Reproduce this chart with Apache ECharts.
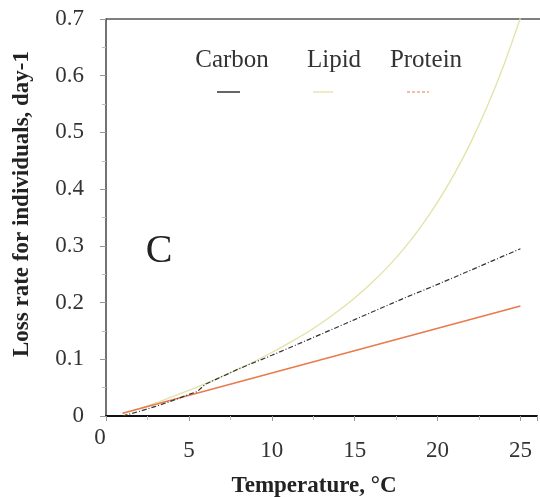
<!DOCTYPE html>
<html>
<head>
<meta charset="utf-8">
<script src="https://cdn.jsdelivr.net/npm/echarts@6/dist/echarts.min.js"></script>
<style>html,body{margin:0;padding:0;background:#fff}#c{width:540px;height:497px}</style>
</head>
<body>
<div id="c"></div>
<script>
const seriesNames = ['Carbon', 'Lipid', 'Protein'];
const carbonT = [1, 2, 3, 4, 5, 5.5, 6, 8, 10, 12, 15, 18, 20, 22, 25];
const carbonV = [0.0, 0.008, 0.017, 0.027, 0.038, 0.043, 0.056, 0.083, 0.107, 0.132, 0.17, 0.208, 0.232, 0.257, 0.295];
const lipidT = [1, 2, 3, 4, 5, 6, 7, 8, 9, 10, 11, 12, 13, 14, 15, 16, 17, 18, 19, 20, 21, 22, 23, 24, 25];
const lipidV = [0.004, 0.013, 0.023, 0.034, 0.045, 0.057, 0.070, 0.083, 0.097, 0.112, 0.128, 0.145, 0.164, 0.185, 0.208, 0.234, 0.263, 0.296, 0.334, 0.377, 0.426, 0.482, 0.546, 0.619, 0.702];
const proteinT = [1, 25];
const proteinV = [0.005, 0.194];
const xTicks = [0, 5, 10, 15, 20, 25];
const yTicks = [0, 0.1, 0.2, 0.3, 0.4, 0.5, 0.6, 0.7];
const xTitle = 'Temperature, °C';
const yTitle = 'Loss rate for individuals, day-1';
const panelLabel = 'C';

const pairs = (xs, ys) => xs.map((x, i) => [x, ys[i]]);
const serif = '"Liberation Serif", "DejaVu Serif", serif';
const chart = echarts.init(document.getElementById('c'));
const colors = ['#333333', '#e3e2a6', '#ea7a4c'];

chart.setOption({
  animation: false,
  backgroundColor: '#ffffff',
  grid: { left: 106, top: 19, width: 436, height: 397 },
  xAxis: {
    type: 'value', min: 0, max: 26, interval: 5,
    axisLine: { show: true, onZero: false, lineStyle: { color: '#111', width: 2 } },
    axisTick: { show: true, length: 5, lineStyle: { color: '#999' } },
    minorTick: { show: true, splitNumber: 2, length: 4, lineStyle: { color: '#bbb' } },
    splitLine: { show: false },
    axisLabel: {
      margin: 23, fontFamily: serif, fontSize: 23, color: '#333',
      formatter: v => (xTicks.indexOf(v) > 0 ? String(v) : '')
    }
  },
  yAxis: {
    type: 'value', min: 0, max: 0.7, interval: 0.1,
    axisLine: { show: true, lineStyle: { color: '#444', width: 1.5 } },
    axisTick: { show: true, length: 6, lineStyle: { color: '#999' } },
    minorTick: { show: true, splitNumber: 2, length: 4, lineStyle: { color: '#bbb' } },
    splitLine: { show: false },
    axisLabel: {
      margin: 22, fontFamily: serif, fontSize: 23, color: '#333',
      formatter: v => { const t = yTicks.find(y => Math.abs(y - v) < 1e-9); return t === undefined ? '' : String(t); }
    }
  },
  series: [
    { name: seriesNames[0], type: 'line', data: pairs(carbonT, carbonV), showSymbol: false, clip: true,
      lineStyle: { color: colors[0], width: 1.2, type: [5, 2, 1, 2] }, z: 3 },
    { name: seriesNames[1], type: 'line', data: pairs(lipidT, lipidV), showSymbol: false, smooth: 0.4, clip: true,
      lineStyle: { color: colors[1], width: 1.3 }, z: 2 },
    { name: seriesNames[2], type: 'line', data: pairs(proteinT, proteinV), showSymbol: false, clip: true,
      lineStyle: { color: colors[2], width: 1.6 }, z: 2 }
  ],
  graphic: [
    { type: 'line', shape: { x1: 106, y1: 19, x2: 540, y2: 19 }, style: { stroke: '#555', lineWidth: 1.5 } },
    { type: 'text', x: 100, y: 438, style: { text: '0', font: '23px ' + serif, fill: '#333', textAlign: 'center', textVerticalAlign: 'middle' } },
    { type: 'text', x: 159, y: 251, style: { text: panelLabel, font: '40px ' + serif, fill: '#222', textAlign: 'center', textVerticalAlign: 'middle' } },
    { type: 'text', x: 232, y: 60, style: { text: seriesNames[0], font: '25px ' + serif, fill: '#333', textAlign: 'center', textVerticalAlign: 'middle' } },
    { type: 'text', x: 334, y: 60, style: { text: seriesNames[1], font: '25px ' + serif, fill: '#333', textAlign: 'center', textVerticalAlign: 'middle' } },
    { type: 'text', x: 426, y: 60, style: { text: seriesNames[2], font: '25px ' + serif, fill: '#333', textAlign: 'center', textVerticalAlign: 'middle' } },
    { type: 'line', shape: { x1: 217, y1: 92, x2: 240, y2: 92 }, style: { stroke: colors[0], lineWidth: 1.5 } },
    { type: 'line', shape: { x1: 313, y1: 92, x2: 333, y2: 92 }, style: { stroke: colors[1], lineWidth: 1.3 } },
    { type: 'line', shape: { x1: 407, y1: 92, x2: 429, y2: 92 }, style: { stroke: colors[2], lineWidth: 1.2, lineDash: [3, 2] } },
    { type: 'text', x: 314, y: 486, style: { text: xTitle, font: 'bold 23px ' + serif, fill: '#222', textAlign: 'center', textVerticalAlign: 'middle' } },
    { type: 'text', x: 22, y: 204, rotation: Math.PI / 2, style: { text: yTitle, font: 'bold 23px ' + serif, fill: '#222', textAlign: 'center', textVerticalAlign: 'middle' } }
  ]
});
</script>
</body>
</html>
